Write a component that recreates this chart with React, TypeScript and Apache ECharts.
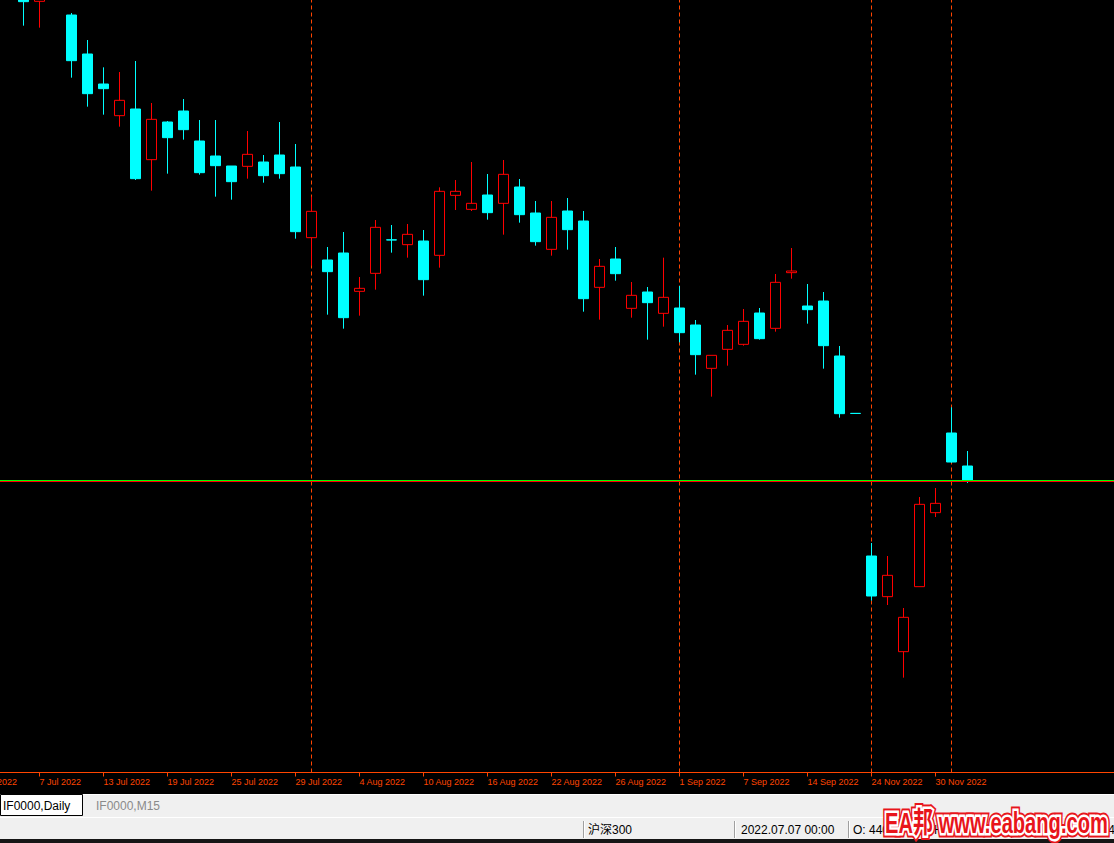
import React, { useEffect, useRef } from 'react';
import * as echarts from 'echarts';

// Daily bars of IF0000 (CSI 300 index futures)
const dates = [
  '1 Jul 2022', '4 Jul 2022', '5 Jul 2022', '6 Jul 2022', '7 Jul 2022', '8 Jul 2022', '11 Jul 2022', '12 Jul 2022',
  '13 Jul 2022', '14 Jul 2022', '15 Jul 2022', '18 Jul 2022', '19 Jul 2022', '20 Jul 2022', '21 Jul 2022', '22 Jul 2022',
  '25 Jul 2022', '26 Jul 2022', '27 Jul 2022', '28 Jul 2022', '29 Jul 2022', '1 Aug 2022', '2 Aug 2022', '3 Aug 2022',
  '4 Aug 2022', '5 Aug 2022', '8 Aug 2022', '9 Aug 2022', '10 Aug 2022', '11 Aug 2022', '12 Aug 2022', '15 Aug 2022',
  '16 Aug 2022', '17 Aug 2022', '18 Aug 2022', '19 Aug 2022', '22 Aug 2022', '23 Aug 2022', '24 Aug 2022', '25 Aug 2022',
  '26 Aug 2022', '29 Aug 2022', '30 Aug 2022', '31 Aug 2022', '1 Sep 2022', '2 Sep 2022', '5 Sep 2022', '6 Sep 2022',
  '7 Sep 2022', '8 Sep 2022', '9 Sep 2022', '13 Sep 2022', '14 Sep 2022', '15 Sep 2022', '16 Sep 2022', '19 Sep 2022',
  '24 Nov 2022', '25 Nov 2022', '28 Nov 2022', '29 Nov 2022', '30 Nov 2022', '1 Dec 2022', '2 Dec 2022',
];

const open = [
  4412, 4417, 4427, 4432, 4405.4, 4412, 4389.0, 4342.2, 4306.2, 4268.2, 4276.2, 4215.4, 4260.6, 4273.8, 4237.8, 4219.8,
  4207.8, 4207.4, 4212.6, 4221.0, 4206.6, 4121.8, 4095.0, 4103.4, 4057.4, 4079.0, 4119.2, 4113.4, 4117.8, 4100.6, 4172.6,
  4155.8, 4173.0, 4163.0, 4182.6, 4151.4, 4107.8, 4153.8, 4141.8, 4062.2, 4096.2, 4037.0, 4056.6, 4031.0, 4037.4, 4017.0,
  3965.0, 3987.8, 3993.8, 4031.4, 4013.0, 4079.8, 4039.8, 4045.8, 3979.8, 3911.0, 3739.8, 3691.0, 3625.0, 3703.0, 3791.8,
  3887.4, 3847.8,
];

const close = [
  4419, 4427, 4437, 4405.0, 4416.6, 4420, 4334.2, 4294.6, 4300.6, 4286.6, 4192.6, 4263.8, 4241.8, 4251.4, 4199.8, 4208.2,
  4189.0, 4221.8, 4196.2, 4198.6, 4129.0, 4153.4, 4081.0, 4025.8, 4061.0, 4134.2, 4119.0, 4125.8, 4071.4, 4177.4, 4177.4,
  4163.0, 4151.8, 4197.8, 4149.4, 4117.0, 4146.2, 4131.4, 4048.6, 4087.4, 4078.6, 4052.6, 4043.8, 4050.2, 4007.8, 3981.4,
  3980.6, 4010.6, 4021.4, 4000.6, 4068.2, 4081.8, 4035.4, 3992.2, 3910.6, 3910.8, 3691.8, 3716.6, 3666.2, 3801.8, 3803.0,
  3852.6, 3830.4,
];

const high = [
  4427, 4435, 4447, 4439, 4425.0, 4430, 4391.4, 4359.0, 4326.2, 4320.6, 4333.8, 4283.4, 4261.8, 4288.2, 4263.0, 4263.0,
  4207.8, 4249.8, 4221.0, 4260.6, 4234.2, 4171.0, 4110.6, 4128.6, 4074.6, 4143.0, 4137.0, 4138.2, 4131.0, 4182.2, 4191.0,
  4212.6, 4198.2, 4215.0, 4192.2, 4165.8, 4165.8, 4169.4, 4153.8, 4096.2, 4110.6, 4068.6, 4062.6, 4097.8, 4063.8, 4023.0,
  3980.6, 4017.0, 4036.2, 4037.4, 4078.2, 4109.4, 4066.2, 4056.6, 3991.8, 3911.0, 3755.4, 3739.8, 3677.4, 3810.6, 3821.4,
  3918.2, 3865.8,
];

const low = [
  4408, 4409, 4412, 4376.2, 4373.8, 4409, 4313.8, 4279.0, 4269.4, 4255.0, 4191.0, 4178.2, 4198.6, 4239.4, 4197.4, 4171.0,
  4167.4, 4192.6, 4187.8, 4192.6, 4120.6, 4088.2, 4029.4, 4012.6, 4028.2, 4059.4, 4103.8, 4097.8, 4052.2, 4085.8, 4155.0,
  4153.8, 4143.4, 4125.4, 4139.8, 4112.2, 4100.2, 4107.4, 4033.0, 4023.4, 4070.2, 4025.8, 3999.4, 4015.0, 3996.2, 3957.4,
  3931.0, 3968.2, 3992.2, 3999.4, 4009.0, 4072.6, 4018.6, 3964.6, 3905.8, 3910.8, 3686.2, 3681.0, 3593.8, 3703.0, 3786.6,
  3851.8, 3827.4,
];

const bidPrice = 3830.4;
const askPrice = 3829.2;
const priceMin = 3480;
const priceMax = 4407;
const futureSlots = 9;

const tabs = ['IF0000,Daily', 'IF0000,M15'];
const symbolName = '沪深300';
const statusTime = '2022.07.07 00:00';
const statusIndex = 4;
const watermark = 'EA邦 www.eabang.com';

// the chart canvas is shifted left so that the first bars sit off-screen, as in the terminal window
const SHIFT = 40;

export default function App() {
  const ref = useRef<HTMLDivElement>(null);

  useEffect(() => {
    const chart = echarts.init(ref.current as HTMLDivElement, null, { renderer: 'svg' });
    const orange = '#FF4500';
    const categories = dates.concat(Array.from({ length: futureSlots }, (_, i) => `+${i + 1}`));
    const candles = dates.map((_, i) => [open[i], close[i], low[i], high[i]]);
    const monthOf = (d: string) => d.split(' ')[1];
    const monthStarts = dates.filter((d, i) => i > 0 && monthOf(d) !== monthOf(dates[i - 1]));
    const labelShown = (index: number) => index < dates.length && index % 4 === 0;

    const uiFont = '12px "Liberation Sans", "Noto Sans CJK SC", sans-serif';
    const wmFont = 'bold 29px "Liberation Sans", "Noto Sans CJK SC", sans-serif';
    const ctx = document.createElement('canvas').getContext('2d') as CanvasRenderingContext2D;
    ctx.font = wmFont;
    const wmWidth = ctx.measureText(watermark).width || 300;
    const wmScale = 223 / wmWidth;

    const separators = [583, 734, 848, 929, 1011, 1088];
    const statusTexts = [
      { x: 588, t: symbolName },
      { x: 741, t: statusTime },
      { x: 853, t: `O: ${open[statusIndex].toFixed(1)}` },
      { x: 934, t: `H: ${high[statusIndex].toFixed(1)}` },
      { x: 1016, t: `L: ${low[statusIndex].toFixed(1)}` },
      { x: 1093, t: `C: ${close[statusIndex].toFixed(1)}` },
    ];

    const children: any[] = [
      { type: 'rect', shape: { x: 0, y: 794, width: 1114, height: 1 }, style: { fill: '#FFFFFF' } },
      { type: 'rect', shape: { x: 0, y: 795, width: 1114, height: 22 }, style: { fill: '#F0F0F0' } },
      { type: 'rect', shape: { x: 0, y: 817, width: 1114, height: 1 }, style: { fill: '#FFFFFF' } },
      { type: 'rect', shape: { x: 0, y: 818, width: 1114, height: 21 }, style: { fill: '#F0F0F0' } },
      { type: 'rect', shape: { x: 0, y: 839, width: 1114, height: 4 }, style: { fill: '#151515' } },
      {
        type: 'rect',
        shape: { x: 0.5, y: 794.5, width: 82, height: 21 },
        style: { fill: '#FFFFFF', stroke: '#000000', lineWidth: 1 },
      },
      { type: 'text', x: 3, y: 806, style: { text: tabs[0], font: uiFont, fill: '#000000', verticalAlign: 'middle' } },
      { type: 'text', x: 96, y: 806, style: { text: tabs[1], font: uiFont, fill: '#8A8A8A', verticalAlign: 'middle' } },
    ];
    separators.forEach((x) => {
      children.push({ type: 'line', shape: { x1: x + 0.5, y1: 821, x2: x + 0.5, y2: 838 }, style: { stroke: '#A0A0A0', lineWidth: 1 } });
      children.push({ type: 'line', shape: { x1: x + 1.5, y1: 821, x2: x + 1.5, y2: 838 }, style: { stroke: '#FFFFFF', lineWidth: 1 } });
    });
    statusTexts.forEach((s) => {
      children.push({ type: 'text', x: s.x, y: 830, style: { text: s.t, font: uiFont, fill: '#000000', verticalAlign: 'middle' } });
    });
    children.push({
      type: 'group',
      x: 885,
      y: 823,
      scaleX: wmScale,
      children: [
        { type: 'text', style: { text: watermark, font: wmFont, fill: '#E8151B', stroke: '#E8151B', lineWidth: 9, lineJoin: 'round', verticalAlign: 'middle' } },
        { type: 'text', style: { text: watermark, font: wmFont, fill: '#FFFFFF', stroke: '#FFFFFF', lineWidth: 5, lineJoin: 'round', verticalAlign: 'middle' } },
        { type: 'text', style: { text: watermark, font: wmFont, fill: '#E8151B', verticalAlign: 'middle' } },
      ],
    });

    chart.setOption({
      animation: false,
      backgroundColor: '#000000',
      grid: { left: 7.5, top: 0, width: 16 * categories.length, height: 772.5, containLabel: false },
      xAxis: {
        type: 'category',
        data: categories,
        boundaryGap: true,
        axisLine: { show: true, lineStyle: { color: orange, width: 1 } },
        axisTick: {
          show: true,
          alignWithLabel: true,
          length: 4,
          interval: (i: number) => labelShown(i),
          lineStyle: { color: orange, width: 1 },
        },
        axisLabel: {
          show: true,
          interval: (i: number) => labelShown(i),
          color: orange,
          fontSize: 9,
          fontFamily: '"Liberation Sans", Arial, sans-serif',
          align: 'left',
          margin: 5,
        },
        splitLine: { show: false },
      },
      yAxis: {
        type: 'value',
        min: priceMin,
        max: priceMax,
        show: false,
        splitLine: { show: false },
      },
      series: [
        {
          type: 'line',
          data: [],
          silent: true,
          z: 1,
          color: orange,
          markLine: {
            z: 1,
            silent: true,
            symbol: ['none', 'none'],
            label: { show: false },
            emphasis: { disabled: true },
            lineStyle: { color: orange, type: [4, 3], width: 1, opacity: 1 },
            data: monthStarts.map((d) => ({ xAxis: d })),
          },
        },
        {
          type: 'candlestick',
          data: candles,
          barWidth: 10,
          clip: true,
          z: 3,
          emphasis: { disabled: true },
          itemStyle: {
            color: '#000000',
            color0: '#00FFFF',
            borderColor: '#FF0000',
            borderColor0: '#00FFFF',
            borderWidth: 1,
          },
          markLine: {
            z: 6,
            silent: true,
            symbol: ['none', 'none'],
            label: { show: false },
            emphasis: { disabled: true },
            lineStyle: { type: 'solid', width: 1, opacity: 1 },
            data: [
              { yAxis: askPrice, lineStyle: { color: '#FF0000', type: 'solid', width: 1 } },
              { yAxis: bidPrice, lineStyle: { color: '#00FF00', type: 'solid', width: 1 } },
            ],
          },
        },
      ],
      graphic: [{ type: 'group', x: SHIFT, y: 0, children }],
    });

    return () => chart.dispose();
  }, []);

  return (
    <div style={{ position: 'fixed', left: 0, top: 0, width: 1114, height: 843, overflow: 'hidden' }}>
      <div ref={ref} style={{ position: 'absolute', left: -SHIFT, top: 0, width: 1200, height: 843 }} />
    </div>
  );
}
